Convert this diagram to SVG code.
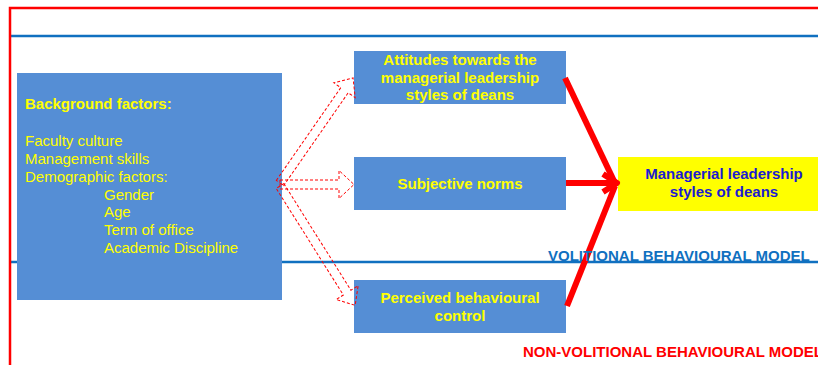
<svg xmlns="http://www.w3.org/2000/svg" width="818" height="365" viewBox="0 0 818 365">
  <style>
    .box { fill: #558ED5; }
    .yl { fill: #FFFF00; font-family: "Liberation Sans", Arial, sans-serif; font-size: 15px; }
    .b { font-weight: bold; }
    .mid { text-anchor: middle; }
    .blk { fill: none; stroke: #FF0000; stroke-width: 1; stroke-dasharray: 3 2; }
    .thick { stroke: #FF0000; stroke-width: 6; fill: none; }
    .frameBlue { stroke: #1070C0; stroke-width: 2.5; }
  </style>

  <rect width="818" height="365" fill="#FFFFFF"/>

  <!-- model frames -->
  <g id="frames">
    <line x1="9" y1="36" x2="818" y2="36" class="frameBlue"/>
    <line x1="9" y1="262" x2="818" y2="262" class="frameBlue"/>
    <polyline points="10,365 10,8 818,8" fill="none" stroke="#FF0000" stroke-width="2.5"/>
  </g>

  <!-- background factors -->
  <g id="background">
    <rect x="17" y="73" width="265" height="227" class="box"/>
    <text x="25" y="109" class="yl b">Background factors:</text>
    <text x="25" y="146" class="yl">Faculty culture</text>
    <text x="25" y="164" class="yl">Management skills</text>
    <text x="25" y="182" class="yl">Demographic factors:</text>
    <text x="104" y="199.5" class="yl">Gender</text>
    <text x="104" y="217" class="yl">Age</text>
    <text x="104" y="235" class="yl">Term of office</text>
    <text x="104" y="252.5" class="yl">Academic Discipline</text>
  </g>

  <g id="attitudes">
    <rect x="354" y="51" width="212" height="53" class="box"/>
    <text x="460" y="65" class="yl b mid">Attitudes towards the</text>
    <text x="460" y="82.5" class="yl b mid">managerial leadership</text>
    <text x="460" y="100" class="yl b mid">styles of deans</text>
  </g>

  <g id="subjective-norms">
    <rect x="354" y="157" width="212" height="53" class="box"/>
    <text x="460" y="188.5" class="yl b mid">Subjective norms</text>
  </g>

  <g id="perceived-control">
    <rect x="354" y="280" width="212" height="53" class="box"/>
    <text x="460" y="303" class="yl b mid">Perceived behavioural</text>
    <text x="460" y="321" class="yl b mid">control</text>
  </g>

  <g id="leadership-styles">
    <rect x="618" y="157" width="200" height="54" fill="#FFFF00"/>
    <text x="724" y="179" class="b mid" fill="#1C1CD0" font-family="Liberation Sans, Arial, sans-serif" font-size="15">Managerial leadership</text>
    <text x="724" y="196.5" class="b mid" fill="#1C1CD0" font-family="Liberation Sans, Arial, sans-serif" font-size="15">styles of deans</text>
  </g>

  <!-- connectors -->
  <g id="connectors">
    <!-- hollow dashed block arrows from background factors -->
    <polygon class="blk" transform="translate(280,183) rotate(-55.2)" points="0,-4.5 113,-4.5 113,-13 128,0 113,13 113,4.5 0,4.5"/>
    <polygon class="blk" transform="translate(280,184.5)" points="0,-4.5 59,-4.5 59,-14 74,0 59,14 59,4.5 0,4.5"/>
    <polygon class="blk" transform="translate(280,186) rotate(57.8)" points="0,-4.5 126,-4.5 126,-13 141,0 126,13 126,4.5 0,4.5"/>

    <!-- thick red arrows into leadership styles -->
    <line x1="565" y1="78" x2="614" y2="181" class="thick"/>
    <line x1="566" y1="183" x2="616" y2="183" class="thick"/>
    <line x1="567" y1="306" x2="615" y2="186" class="thick"/>
    <polyline points="603,174 617,183 603,192" class="thick" stroke-linejoin="round"/>
  </g>

  <!-- model labels -->
  <g id="labels" font-family="Liberation Sans, Arial, sans-serif" font-weight="bold" font-size="15">
    <text x="548" y="260.5" fill="#1070C0">VOLITIONAL BEHAVIOURAL MODEL</text>
    <text x="523" y="357" fill="#FF0000">NON-VOLITIONAL BEHAVIOURAL MODEL</text>
  </g>
</svg>
